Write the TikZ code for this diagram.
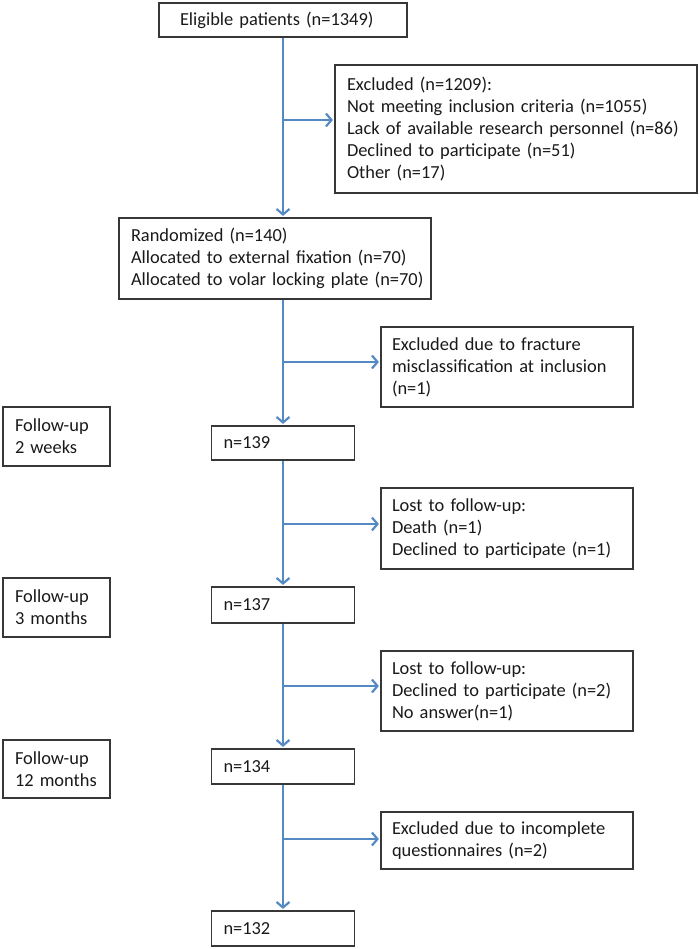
\documentclass[tikz,border=0pt]{standalone}
\usepackage{fontspec}
\setmainfont{Carlito}
\usetikzlibrary{arrows.meta}
\definecolor{lineblue}{RGB}{84,137,196}
\definecolor{boxline}{RGB}{55,55,55}
\begin{document}
\begin{tikzpicture}[x=1pt,y=-1pt,
  box/.style={draw=boxline, line width=1.2pt, align=left, inner ysep=0pt,
    font=\fontsize{18.4}{22}\selectfont, text=black!90, anchor=center},
  conn/.style={draw=lineblue, line width=1.1pt,
    -{Straight Barb[length=5.5pt,width=13pt,line width=2.2pt]}, shorten >=1.5pt}]
\useasboundingbox (0,0) rectangle (699,949);

% main column
\node[box, text width=206pt, inner xsep=21pt, minimum height=34pt] (elig) at (283,20) {\mbox{Eligible patients (n=1349)}};
\node[box, text width=338pt, inner xsep=12pt, minimum height=128pt] (excl) at (516,129)
  {Excluded (n=1209):\\\mbox{Not meeting inclusion criteria (n=1055)}\\\mbox{Lack of available research personnel (n=86)}\\Declined to participate (n=51)\\Other (n=17)};
\node[box, text width=288pt, inner xsep=12pt, minimum height=81pt] (rand) at (275,258.5)
  {\mbox{Randomized (n=140)}\\\mbox{Allocated to external fixation (n=70)}\\\mbox{Allocated to volar locking plate (n=70)}};
\node[box, text width=230pt, inner xsep=11pt, minimum height=80pt] (frac) at (507,367)
  {Excluded due to fracture\\\mbox{misclassification at inclusion}\\(n=1)};
\node[box, text width=83pt, inner xsep=12pt, minimum height=59pt] (fu2) at (56.5,436.5) {\mbox{Follow-up}\\\mbox{2 weeks}};
\node[box, text width=119pt, inner xsep=12pt, minimum height=34pt] (n139) at (283,443) {n=139};
\node[box, text width=230pt, inner xsep=11pt, minimum height=81pt] (lost1) at (507,528.5)
  {Lost to follow-up:\\Death (n=1)\\\mbox{Declined to participate (n=1)}};
\node[box, text width=83pt, inner xsep=12pt, minimum height=59pt] (fu3) at (56.5,607.5) {\mbox{Follow-up}\\\mbox{3 months}};
\node[box, text width=119pt, inner xsep=12pt, minimum height=36pt] (n137) at (283,605) {n=137};
\node[box, text width=230pt, inner xsep=11pt, minimum height=80pt] (lost2) at (507,691)
  {Lost to follow-up:\\\mbox{Declined to participate (n=2)}\\No answer(n=1)};
\node[box, text width=83pt, inner xsep=12pt, minimum height=58pt] (fu12) at (56.5,769) {\mbox{Follow-up}\\\mbox{12 months}};
\node[box, text width=119pt, inner xsep=12pt, minimum height=35pt] (n134) at (283,766.5) {n=134};
\node[box, text width=230pt, inner xsep=11pt, minimum height=57pt] (excl2) at (507,840.5)
  {\mbox{Excluded due to incomplete}\\questionnaires (n=2)};
\node[box, text width=119pt, inner xsep=12pt, minimum height=35pt] (n132) at (283,928.5) {n=132};

% branch points
\coordinate (b1) at (283,120);
\coordinate (b2) at (283,362);
\coordinate (b3) at (283,524);
\coordinate (b4) at (283,686);
\coordinate (b5) at (283,839);

% connectors
\draw[conn] (elig.south) -- (elig.south |- rand.north);
\draw[conn] (b1) -- (b1 -| excl.west);
\draw[conn] (n139.north |- rand.south) -- (n139.north);
\draw[conn] (b2) -- (b2 -| frac.west);
\draw[conn] (n139.south) -- (n137.north);
\draw[conn] (b3) -- (b3 -| lost1.west);
\draw[conn] (n137.south) -- (n134.north);
\draw[conn] (b4) -- (b4 -| lost2.west);
\draw[conn] (n134.south) -- (n132.north);
\draw[conn] (b5) -- (b5 -| excl2.west);
\end{tikzpicture}
\end{document}
